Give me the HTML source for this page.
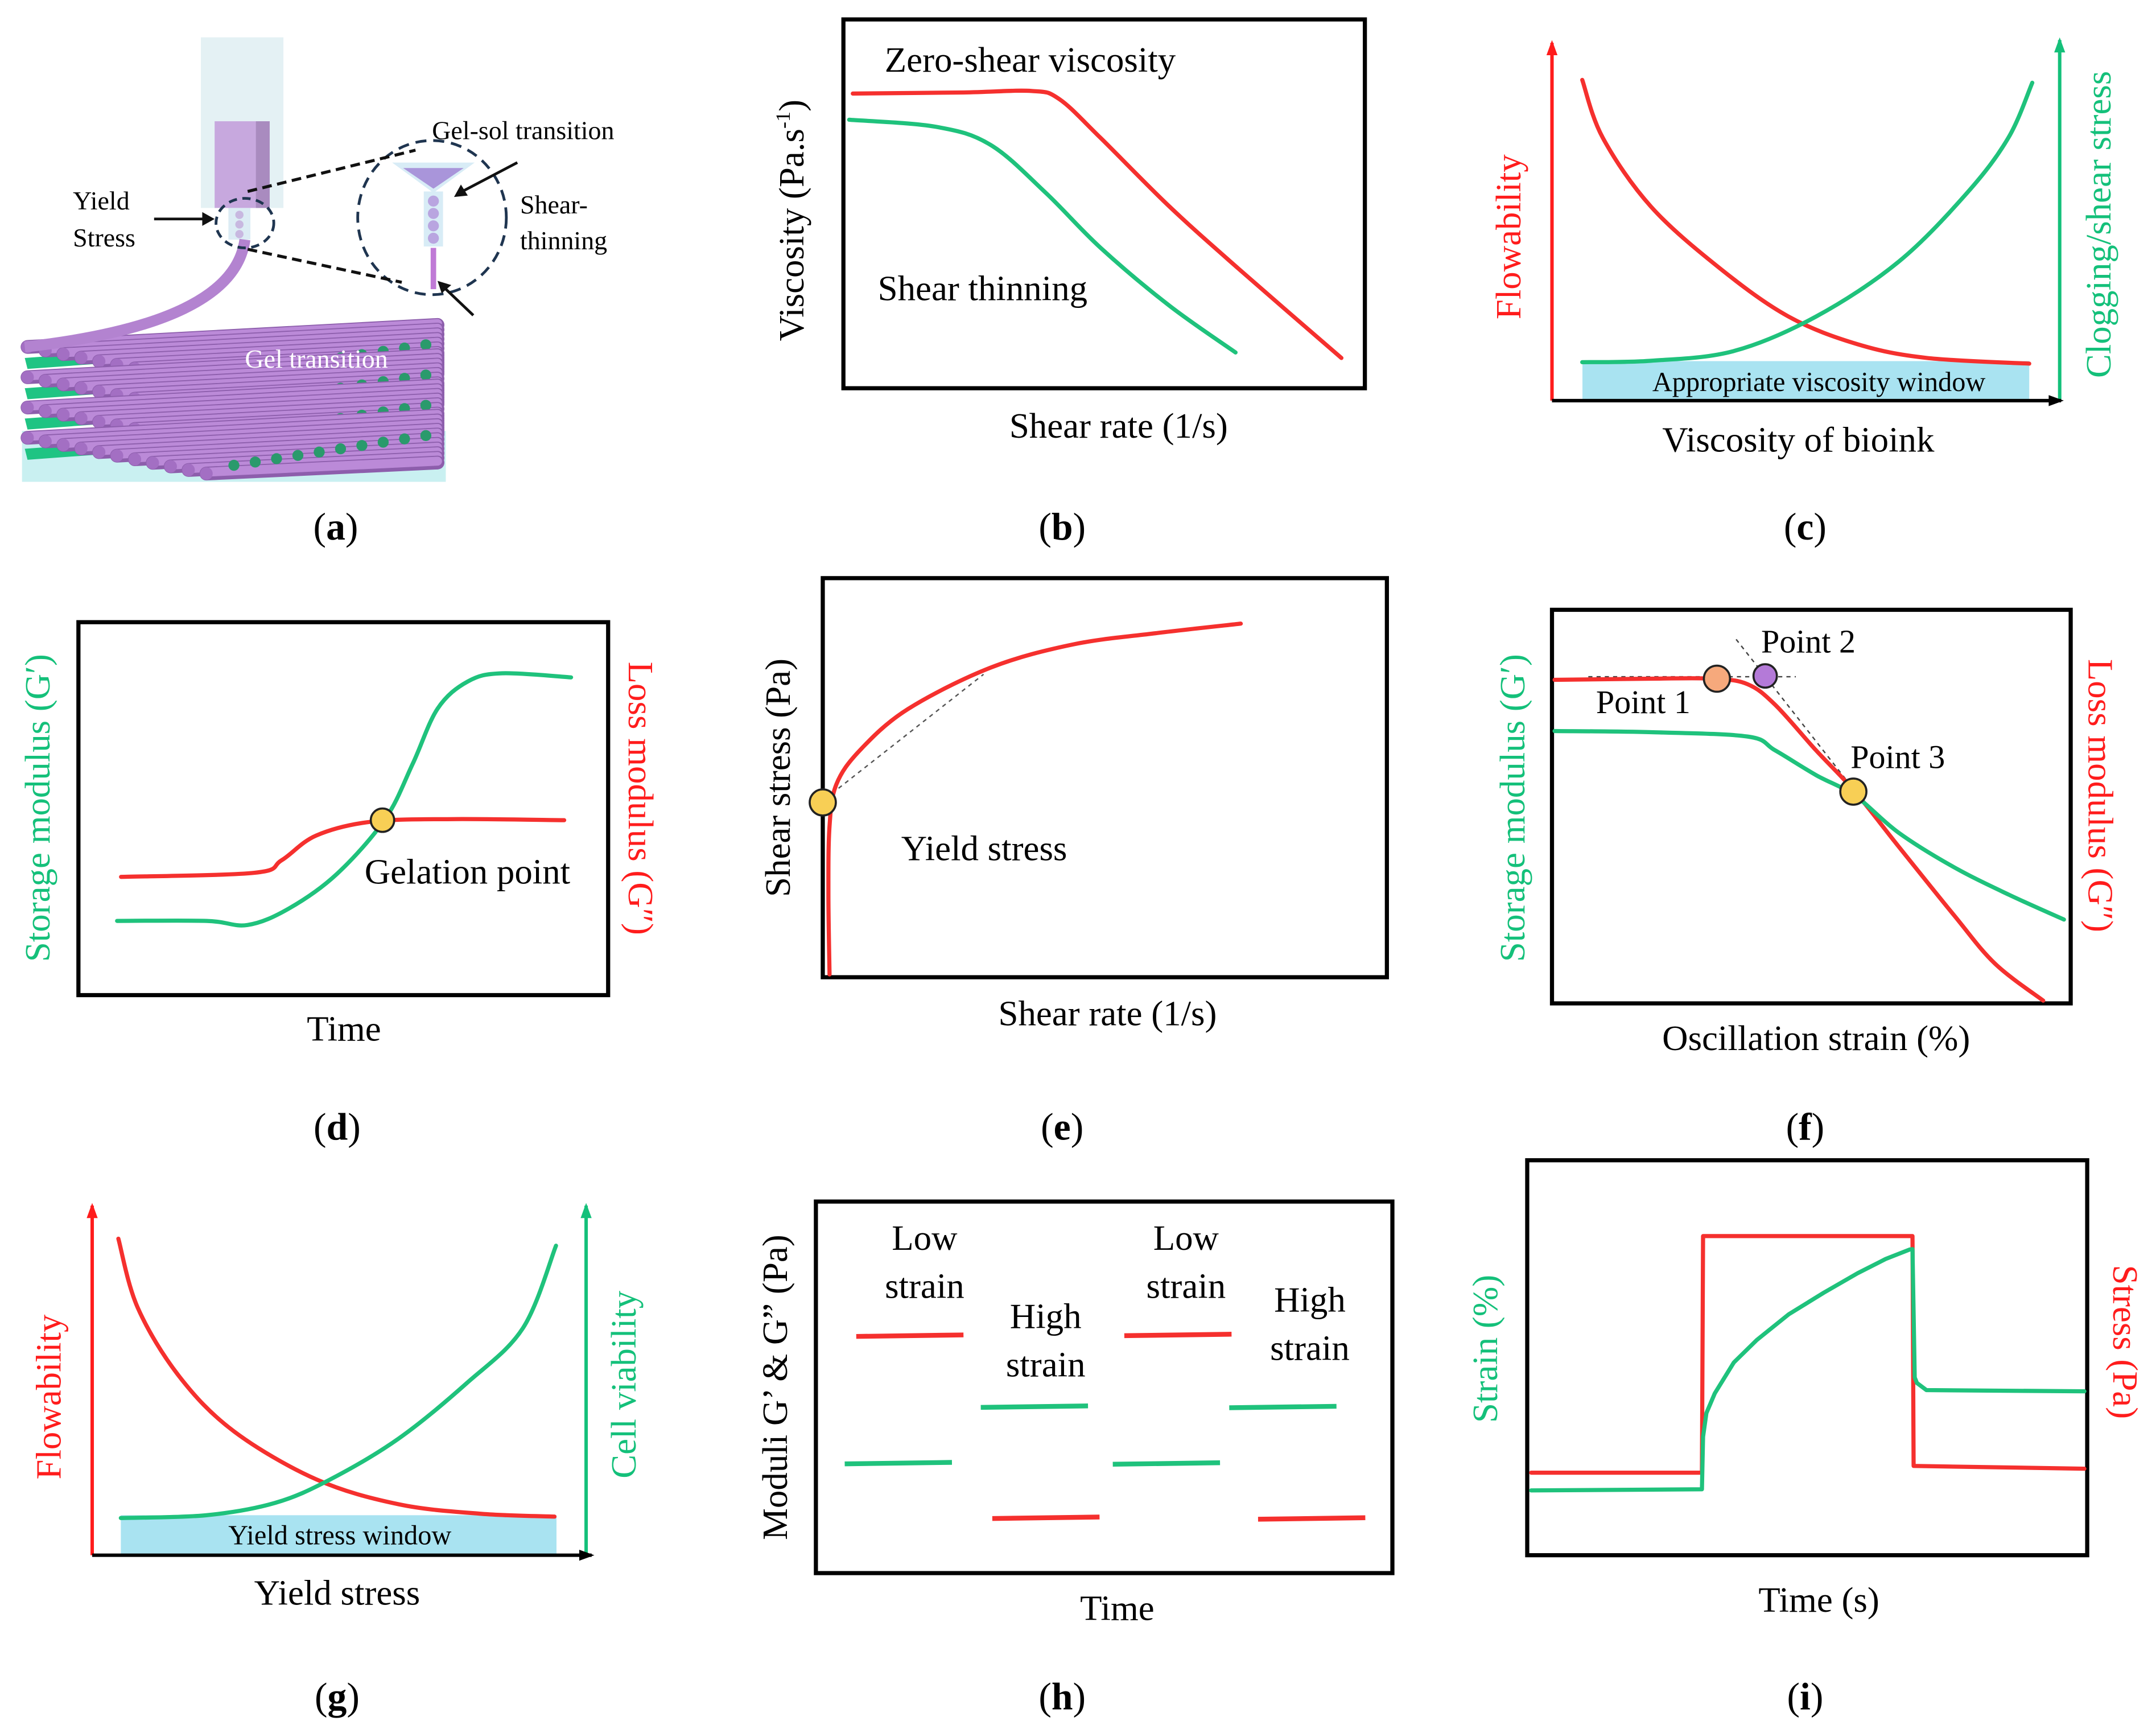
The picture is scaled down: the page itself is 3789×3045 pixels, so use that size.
<!DOCTYPE html>
<html><head><meta charset="utf-8">
<style>
html,body{margin:0;padding:0;background:#fff;}
svg, svg text{font-family:"Liberation Serif","Times New Roman","DejaVu Serif",serif;}
</style></head>
<body>
<svg id="fig" width="3789" height="3040" viewBox="0 0 1567 1257" xmlns="http://www.w3.org/2000/svg" font-family="Liberation Serif, serif">
<rect x="0" y="0" width="1567" height="1257" fill="#fff"/>

<!-- Panel (a) illustration -->
<g id="pa">
  <rect x="146" y="27" width="60" height="124" fill="#e4f1f4"/>
  <rect x="156" y="88" width="40" height="63" fill="#c7a8de"/>
  <rect x="186" y="88" width="10" height="63" fill="#a98bbf"/>
  <rect x="166" y="151" width="16" height="23" fill="#dcecf4"/>
  <circle cx="174" cy="156" r="3" fill="#c8b8e0"/><circle cx="174" cy="163" r="3" fill="#c8b8e0"/><circle cx="174" cy="170" r="3" fill="#c8b8e0"/>
  <rect x="16" y="313" width="308" height="37" fill="#c9f0f1"/>
  <g id="grid"></g>
  <path d="M178 174 Q170 235 18 252" stroke="#b383d0" stroke-width="8" fill="none"/>
  <ellipse cx="178" cy="162" rx="21" ry="18" fill="none" stroke="#1f3550" stroke-width="2" stroke-dasharray="6,4"/>
  <ellipse cx="314" cy="158" rx="54" ry="56" fill="none" stroke="#1f3550" stroke-width="2" stroke-dasharray="8,5"/>
  <line x1="180" y1="139" x2="302" y2="109" stroke="#111" stroke-width="2.2" stroke-dasharray="7,4"/>
  <line x1="180" y1="181" x2="292" y2="205" stroke="#111" stroke-width="2.2" stroke-dasharray="7,4"/>
  <polygon points="285,118 345,118 315,140" fill="#d8ecf6"/>
  <polygon points="293,122 337,122 315,137" fill="#a995da"/>
  <rect x="308" y="139" width="14" height="40" fill="#d8ecf6"/>
  <circle cx="315" cy="146" r="4" fill="#b9a5e0"/><circle cx="315" cy="155" r="4" fill="#b9a5e0"/><circle cx="315" cy="164" r="4" fill="#b9a5e0"/><circle cx="315" cy="173" r="4" fill="#b9a5e0"/>
  <rect x="313" y="180" width="4" height="30" fill="#c07ad6"/>
  <line x1="112" y1="159" x2="150" y2="159" stroke="#111" stroke-width="2"/><polygon points="156,159 147,154 147,164" fill="#111"/>
  <line x1="376" y1="118" x2="336" y2="139" stroke="#111" stroke-width="2"/><polygon points="330,143 335,134 340,142" fill="#111"/>
  <line x1="344" y1="229" x2="323" y2="209" stroke="#111" stroke-width="2"/><polygon points="318,204 328,207 321,213" fill="#111"/>
  <text x="314" y="101" font-size="19">Gel-sol transition</text>
  <text x="53" y="152" font-size="19">Yield</text>
  <text x="53" y="179" font-size="19">Stress</text>
  <text x="378" y="155" font-size="19">Shear-</text>
  <text x="378" y="181" font-size="19">thinning</text>
  <text x="178" y="267" font-size="19" fill="#fff">Gel transition</text>
</g>

<g id="charts"></g>

<!-- static text labels -->
<g font-size="26">
  <text x="244" y="392" text-anchor="middle" font-size="28">(<tspan font-weight="bold">a</tspan>)</text>
  <text x="772" y="392" text-anchor="middle" font-size="28">(<tspan font-weight="bold">b</tspan>)</text>
  <text x="1312" y="392" text-anchor="middle" font-size="28">(<tspan font-weight="bold">c</tspan>)</text>
  <text x="245" y="828" text-anchor="middle" font-size="28">(<tspan font-weight="bold">d</tspan>)</text>
  <text x="772" y="828" text-anchor="middle" font-size="28">(<tspan font-weight="bold">e</tspan>)</text>
  <text x="1312" y="828" text-anchor="middle" font-size="28">(<tspan font-weight="bold">f</tspan>)</text>
  <text x="245" y="1242" text-anchor="middle" font-size="28">(<tspan font-weight="bold">g</tspan>)</text>
  <text x="772" y="1242" text-anchor="middle" font-size="28">(<tspan font-weight="bold">h</tspan>)</text>
  <text x="1312" y="1242" text-anchor="middle" font-size="28">(<tspan font-weight="bold">i</tspan>)</text>

  <!-- b -->
  <text x="643" y="52">Zero-shear viscosity</text>
  <text x="638" y="218">Shear thinning</text>
  <text transform="translate(584,160) rotate(-90)" text-anchor="middle">Viscosity (Pa.s<tspan font-size="15" dy="-10">-1</tspan><tspan dy="10">)</tspan></text>
  <text x="813" y="318" text-anchor="middle">Shear rate (1/s)</text>
  <!-- c -->
  <text transform="translate(1105,172) rotate(-90)" text-anchor="middle" fill="#ff1c1c">Flowability</text>
  <text transform="translate(1534,163) rotate(-90)" text-anchor="middle" fill="#14c07a">Clogging/shear stress</text>
  <text x="1322" y="284" text-anchor="middle" font-size="20">Appropriate viscosity window</text>
  <text x="1307" y="328" text-anchor="middle">Viscosity  of  bioink</text>
  <!-- d -->
  <text x="265" y="642">Gelation point</text>
  <text transform="translate(36,587) rotate(-90)" text-anchor="middle" fill="#14c07a">Storage modulus (G′)</text>
  <text transform="translate(457,580) rotate(90)" text-anchor="middle" fill="#ff1c1c">Loss modulus (G″)</text>
  <text x="250" y="756" text-anchor="middle">Time</text>
  <!-- e -->
  <text transform="translate(574,565) rotate(-90)" text-anchor="middle">Shear stress (Pa)</text>
  <text x="655" y="625">Yield stress</text>
  <text x="805" y="745" text-anchor="middle">Shear rate (1/s)</text>
  <!-- f -->
  <text x="1160" y="518" font-size="24">Point 1</text>
  <text x="1280" y="474" font-size="24">Point 2</text>
  <text x="1345" y="558" font-size="24">Point 3</text>
  <text transform="translate(1108,587) rotate(-90)" text-anchor="middle" fill="#14c07a">Storage modulus (G′)</text>
  <text transform="translate(1518,578) rotate(90)" text-anchor="middle" fill="#ff1c1c">Loss modulus (G″)</text>
  <text x="1320" y="763" text-anchor="middle">Oscillation strain (%)</text>
  <!-- g -->
  <text transform="translate(44,1015) rotate(-90)" text-anchor="middle" fill="#ff1c1c">Flowability</text>
  <text transform="translate(462,1006) rotate(-90)" text-anchor="middle" fill="#14c07a">Cell viability</text>
  <text x="247" y="1122" text-anchor="middle" font-size="20">Yield stress window</text>
  <text x="245" y="1166" text-anchor="middle">Yield stress</text>
  <!-- h -->
  <text x="672" y="908" text-anchor="middle">Low</text>
  <text x="672" y="943" text-anchor="middle">strain</text>
  <text x="760" y="965" text-anchor="middle">High</text>
  <text x="760" y="1000" text-anchor="middle">strain</text>
  <text x="862" y="908" text-anchor="middle">Low</text>
  <text x="862" y="943" text-anchor="middle">strain</text>
  <text x="952" y="953" text-anchor="middle">High</text>
  <text x="952" y="988" text-anchor="middle">strain</text>
  <text transform="translate(572,1008) rotate(-90)" text-anchor="middle">Moduli G’ &amp; G” (Pa)</text>
  <text x="812" y="1177" text-anchor="middle">Time</text>
  <!-- i -->
  <text transform="translate(1088,980) rotate(-90)" text-anchor="middle" fill="#14c07a">Strain (%)</text>
  <text transform="translate(1536,975) rotate(90)" text-anchor="middle" fill="#ff1c1c">Stress (Pa)</text>
  <text x="1322" y="1171" text-anchor="middle">Time (s)</text>
</g>
</svg>

<script>
// ---- data (normalised 0-100 units per panel) ----
const bRedX = [1.8, 23, 36.1, 41.4, 49.3, 62.5, 75.7, 95.5];
const bRedY = [79.9, 80.2, 80.6, 78.4, 67.9, 49.3, 32.5, 8.2];
const bGreenX = [1.1, 17.7, 28.2, 38.8, 49.3, 62.5, 75.2];
const bGreenY = [72.8, 70.9, 66.0, 53.0, 38.1, 22.4, 9.7];

const cRedX = [5.96, 10.0, 19.5, 33.1, 46.6, 60.2, 73.7, 94.0];
const cRedY = [89.3, 73.2, 54.0, 36.8, 23.4, 15.7, 11.9, 10.3];
const cGreenX = [5.96, 19.5, 35.8, 52.0, 68.3, 81.8, 89.9, 94.6];
const cGreenY = [10.7, 11.1, 13.8, 23.4, 38.7, 57.9, 73.2, 88.5];
const cWindow = [6.0, 94.0];

const dRedX = [8.05, 33.2, 38.4, 44.9, 55.3, 70.9, 91.7];
const dRedY = [31.7, 32.8, 36.2, 42.8, 46.5, 47.2, 46.9];
const dGreenX = [7.3, 24.2, 31.9, 39.7, 48.8, 57.9, 63.1, 67.8, 73.5, 80.0, 93.0];
const dGreenY = [19.9, 19.9, 18.8, 23.2, 32.5, 47.2, 62.0, 76.8, 84.1, 86.3, 85.2];
const dGelPoint = [57.4, 46.9];

const eRedX = [1.2, 1.0, 1.2, 2.4, 6.6, 15.1, 29.8, 44.4, 59.0, 74.1];
const eRedY = [0.7, 20.7, 37.9, 48.3, 56.9, 67.2, 77.6, 83.4, 86.2, 88.6];
const eYieldPoint = [0, 43.8];
const eTangent = [[0.5, 44.8], [28.5, 75.9]];

const fRedX = [0.5, 19.1, 31.0, 37.7, 43.0, 50.9, 58.4, 66.8, 77.5, 85.4, 94.7];
const fRedY = [82.2, 82.5, 82.5, 81.1, 75.9, 64.3, 53.8, 39.9, 22.4, 10.1, 0.7];
const fGreenX = [0.5, 19.1, 37.7, 43.0, 50.9, 58.4, 66.8, 77.5, 88.1, 98.7];
const fGreenY = [69.2, 68.9, 67.8, 64.3, 58.0, 52.8, 43.4, 34.6, 27.6, 21.3];
const fPointsX = [31.8, 41.1, 58.1];
const fPointsY = [82.5, 83.2, 53.8];

const gRedX = [5.3, 9.2, 17.6, 28.7, 45.4, 62.1, 78.8, 93.6];
const gRedY = [90.2, 70.6, 51.0, 35.3, 21.6, 14.5, 11.8, 11.0];
const gGreenX = [5.8, 23.1, 37.0, 48.2, 62.1, 75.8, 87.2, 93.9];
const gGreenY = [10.6, 11.4, 14.9, 21.6, 33.3, 49.0, 64.7, 88.2];
const gWindow = [5.8, 94.0];

const hPhases = ["Low strain", "High strain", "Low strain", "High strain"];
const hStorage = [29.4, 44.6, 29.3, 44.5];
const hLoss = [63.7, 14.7, 63.9, 14.5];

const iRedX = [0.7, 31.2, 31.4, 68.8, 69.0, 99.5];
const iRedY = [20.9, 20.9, 80.8, 80.8, 22.6, 21.9];
const iGreenX = [0.7, 31.2, 31.4, 32.0, 33.5, 36.9, 41.0, 46.7, 53.0, 59.0, 64.0, 68.3, 68.8, 69.2, 69.6, 71.3, 99.5];
const iGreenY = [16.4, 16.7, 30.0, 36.0, 41.0, 48.8, 54.5, 61.0, 66.5, 71.4, 75.0, 77.4, 77.5, 45.0, 43.6, 41.8, 41.5];

// ---- rendering ----
const NS = "http://www.w3.org/2000/svg";
const root = document.getElementById("charts");
const RED = "#f5302e", GREEN = "#1fc27c";

function mk(tag, attrs, parent) {
  const e = document.createElementNS(NS, tag);
  for (const k in attrs) e.setAttribute(k, attrs[k]);
  (parent || root).appendChild(e);
  return e;
}
function scales(x0, x1, y0, y1) {
  return { sx: v => x0 + v / 100 * (x1 - x0), sy: v => y1 - v / 100 * (y1 - y0), x0, x1, y0, y1 };
}
function pathD(s, xs, ys, smooth) {
  const p = xs.map((x, i) => [s.sx(x), s.sy(ys[i])]);
  if (!smooth) return "M" + p.map(q => q[0].toFixed(2) + " " + q[1].toFixed(2)).join(" L");
  let d = "M" + p[0][0] + " " + p[0][1];
  for (let i = 0; i < p.length - 1; i++) {
    const a = p[i - 1] || p[i], b = p[i], c = p[i + 1], e = p[i + 2] || c;
    const c1 = [b[0] + (c[0] - a[0]) / 6, b[1] + (c[1] - a[1]) / 6];
    const c2 = [c[0] - (e[0] - b[0]) / 6, c[1] - (e[1] - b[1]) / 6];
    d += " C" + c1.join(" ") + " " + c2.join(" ") + " " + c.join(" ");
  }
  return d;
}
function series(s, xs, ys, color, name, smooth) {
  const el = mk("path", { d: pathD(s, xs, ys, smooth !== false), fill: "none", stroke: color, "stroke-width": 3, "stroke-linejoin": "round", "stroke-linecap": "round" });
  
  
  return el;
}
function frame(s, name) {
  const el = mk("rect", { x: s.x0, y: s.y0, width: s.x1 - s.x0, height: s.y1 - s.y0, fill: "none", stroke: "#000", "stroke-width": 3 });
  
  
}
function marker(cx, cy, r, fill, name) {
  const el = mk("circle", { cx, cy, r, fill, stroke: "#222", "stroke-width": 1.5 });
  
  
}
function arrowAxis(x1, y1, x2, y2, color, name) {
  const el = mk("line", { x1, y1, x2, y2, stroke: color, "stroke-width": 2.5 });
  
  
  let pts;
  if (x1 === x2) pts = `${x2},${y2 - 2} ${x2 - 4},${y2 + 9} ${x2 + 4},${y2 + 9}`;
  else pts = `${x2 + 2},${y2} ${x2 - 9},${y2 - 4} ${x2 - 9},${y2 + 4}`;
  const h = mk("polygon", { points: pts, fill: color });
  
  
}

// (b)
const B = scales(613, 992, 14, 282);
frame(B, "b-plot-frame");
series(B, bRedX, bRedY, RED, "b-zero-shear-curve");
series(B, bGreenX, bGreenY, GREEN, "b-shear-thinning-curve");

// (c)
const C = scales(1128, 1497, 30, 291);
{
  const w = mk("rect", { x: C.sx(cWindow[0]), y: C.sy(11), width: C.sx(cWindow[1]) - C.sx(cWindow[0]), height: C.sy(0) - C.sy(11), fill: "#a9e3f1" });
  
  
}
series(C, cRedX, cRedY, RED, "c-flowability-curve");
series(C, cGreenX, cGreenY, GREEN, "c-clogging-curve");
arrowAxis(1128, 291, 1128, 31, "#ff1c1c", "c-left-axis");
arrowAxis(1497, 291, 1497, 29, "#14c07a", "c-right-axis");
arrowAxis(1128, 291, 1498, 291, "#000", "c-x-axis");

// (d)
const D = scales(57, 442, 452, 723);
frame(D, "d-plot-frame");
series(D, dRedX, dRedY, RED, "d-loss-modulus-curve");
series(D, dGreenX, dGreenY, GREEN, "d-storage-modulus-curve");
marker(D.sx(dGelPoint[0]), D.sy(dGelPoint[1]), 8.5, "#f8cf55", "gelation-point-marker");

// (e)
const E = scales(598, 1008, 420, 710);
frame(E, "e-plot-frame");
{
  const t = mk("line", { x1: E.sx(eTangent[0][0]), y1: E.sy(eTangent[0][1]), x2: E.sx(eTangent[1][0]), y2: E.sy(eTangent[1][1]), stroke: "#555", "stroke-width": 1, "stroke-dasharray": "3,3" });
  
  
}
series(E, eRedX, eRedY, RED, "e-flow-curve");
marker(E.sx(eYieldPoint[0]), E.sy(eYieldPoint[1]), 9.5, "#f8cf55", "yield-point-marker");

// (f)
const F = scales(1128, 1505, 443, 729);
frame(F, "f-plot-frame");
{
  const h = mk("line", { x1: F.sx(7), y1: F.sy(83), x2: F.sx(47), y2: F.sy(83), stroke: "#444", "stroke-width": 1, "stroke-dasharray": "3,3" });
  
  
  const g = mk("line", { x1: F.sx(35.5), y1: F.sy(92.5), x2: F.sx(57.5), y2: F.sy(55.5), stroke: "#444", "stroke-width": 1, "stroke-dasharray": "3,3" });
  
  
}
series(F, fRedX, fRedY, RED, "f-loss-modulus-curve");
series(F, fGreenX, fGreenY, GREEN, "f-storage-modulus-curve");
marker(F.sx(fPointsX[0]), F.sy(fPointsY[0]), 9.5, "#f6a97c", "point-1-marker");
marker(F.sx(fPointsX[1]), F.sy(fPointsY[1]), 8.5, "#b47ad8", "point-2-marker");
marker(F.sx(fPointsX[2]), F.sy(fPointsY[2]), 9.5, "#f8cf55", "point-3-marker");

// (g)
const G = scales(67, 426, 875, 1130);
{
  const w = mk("rect", { x: G.sx(gWindow[0]), y: G.sy(11.4), width: G.sx(gWindow[1]) - G.sx(gWindow[0]), height: G.sy(0) - G.sy(11.4), fill: "#a9e3f1" });
  
  
}
series(G, gRedX, gRedY, RED, "g-flowability-curve");
series(G, gGreenX, gGreenY, GREEN, "g-cell-viability-curve");
arrowAxis(67, 1130, 67, 876, "#ff1c1c", "g-left-axis");
arrowAxis(426, 1130, 426, 876, "#14c07a", "g-right-axis");
arrowAxis(67, 1130, 430, 1130, "#000", "g-x-axis");

// (h)
const H = scales(593, 1012, 873, 1143);
frame(H, "h-plot-frame");
const hCenters = [15.3, 38.9, 61.8, 83.5];
hPhases.forEach((ph, i) => {
  const half = 9.3;
  const cg = hCenters[i] - (i === 3 ? 2.5 : 1);
  const cr = hCenters[i] + (i === 3 ? 2.5 : 1);
  const g = mk("line", { x1: H.sx(cg - half), y1: H.sy(hStorage[i]), x2: H.sx(cg + half), y2: H.sy(hStorage[i] + 0.4), stroke: GREEN, "stroke-width": 3.5 });
  
  
  const r = mk("line", { x1: H.sx(cr - half), y1: H.sy(hLoss[i]), x2: H.sx(cr + half), y2: H.sy(hLoss[i] + 0.4), stroke: RED, "stroke-width": 3.5 });
  
  
});

// (i)
const I = scales(1110, 1517, 843, 1130);
frame(I, "i-plot-frame");
series(I, iRedX, iRedY, RED, "i-stress-curve", false);
series(I, iGreenX, iGreenY, GREEN, "i-strain-curve", false);

// panel (a) scaffold rods
const grid = document.getElementById("grid");
for (let L = 0; L < 4; L++) {
  const by = 252 + L * 22;
  mk("polygon", { points: `18,${by + 8} 318,${by - 14} 320,${by - 6} 20,${by + 16}`, fill: "#1fc483" }, grid);
  for (let j = 0; j < 11; j++) {
    const x = 20 + j * 13, y = by + j * 2.6;
    mk("line", { x1: x, y1: y, x2: 318, y2: y - 16 + j * 0.8, stroke: "#8d5eac", "stroke-width": 10, "stroke-linecap": "round" }, grid);
    mk("line", { x1: x, y1: y - 1, x2: 318, y2: y - 17 + j * 0.8, stroke: "#bb8ad8", "stroke-width": 6.5, "stroke-linecap": "round" }, grid);
    mk("circle", { cx: x, cy: y, r: 4.6, fill: "#a36fc3" }, grid);
  }
  for (let k = 0; k < 10; k++) {
    mk("circle", { cx: 170 + k * 15.5, cy: by + 20 - k * 2.4, r: 4, fill: "#2a9a6c" }, grid);
  }
}
</script>
</body></html>
